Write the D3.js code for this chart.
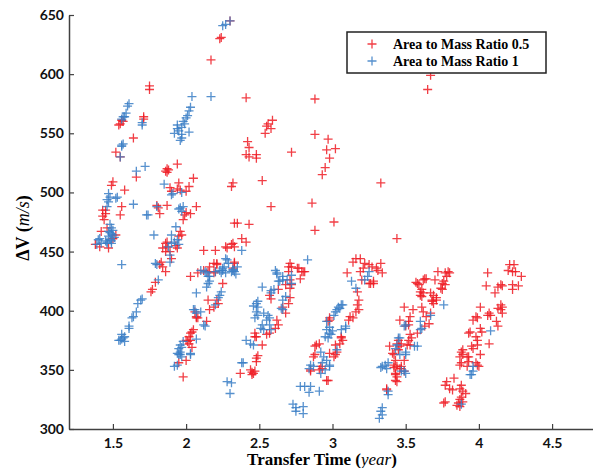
<!DOCTYPE html>
<html><head><meta charset="utf-8">
<script src="https://cdn.jsdelivr.net/npm/d3@7"></script>
<style>body{margin:0;background:#fff}</style>
</head><body>
<svg id="c" width="593" height="468"></svg>
<script>
const seriesNames = ["Area to Mass Ratio 0.5", "Area to Mass Ratio 1"];
const xTicks = [1.5, 2, 2.5, 3, 3.5, 4, 4.5];
const yTicks = [300, 350, 400, 450, 500, 550, 600, 650];

// Area to Mass Ratio 0.5 : [transfer time (year), ΔV (m/s)]
const ratio05 = [
[2.30,645],[2.24,631],[2.23,630],[2.17,612],[1.75,590],[1.75,587],[2.41,580],[2.88,579],[3.67,599],[3.65,587],
[1.55,558],[1.57,560],[1.56,561],[1.54,557],[1.71,564],[1.71,562],[1.64,546],[1.52,534],[1.55,530],[1.66,513],
[1.87,520],[1.86,518],[1.88,519],[1.87,517],[1.94,524],[1.95,508],[1.94,503],[1.96,502],[2.02,505],[2.00,501],
[2.05,512],[2.07,488],[1.99,481],[1.98,477],[1.81,487],[1.82,482],[1.80,489],[1.87,489],[1.50,509],[1.49,506],
[1.45,482],[1.43,480],[1.58,502],[1.56,488],[1.45,485],[1.44,477],[1.55,481],[1.43,485],[1.89,504],[1.90,501],
[2.03,482],[2.00,483],
[1.38,456],[1.41,454],[1.42,467],[1.47,453],[1.52,464],[1.46,470],[1.50,461],
[1.96,467],[1.97,464],[1.87,458],[1.84,453],[1.89,450],[1.95,463],[1.86,457],[1.87,454],[1.93,455],[1.94,453],
[1.86,450],[1.90,444],[1.83,441],[1.82,439],[1.84,437],[1.86,433],[1.79,424],[1.77,418],[1.76,416],
[2.59,561],[2.56,558],[2.55,556],[2.58,554],[2.54,550],[2.88,549],[2.97,545],[2.96,536],[3.02,537],[2.98,529],
[2.95,521],[2.93,515],[2.42,543],[2.43,538],[2.41,532],[2.43,530],[2.48,532],[2.48,529],[2.72,534],[2.32,508],
[2.31,505],[2.52,510],[2.58,488],[2.86,491],[3.01,475],[2.88,468],[2.33,474],[2.35,474],[2.43,473],[2.38,461],
[2.41,458],[3.33,508],[3.44,461],
[2.32,457],[2.33,454],[2.27,454],[2.28,453],[2.31,456],[2.12,451],[2.20,451],[2.19,440],[2.15,433],[2.19,432],
[2.12,434],[2.16,437],[2.21,440],[2.33,441],[2.32,436],[2.08,432],[2.03,429],[2.21,439],[2.20,433],[2.33,440],
[2.25,423],[2.21,409],[2.22,406],[2.19,403],[2.16,401],[2.15,409],[2.08,394],[2.07,395],[2.06,399],[2.07,394],
[2.14,391],[2.02,378],[2.03,375],[2.02,372],[2.04,369],[2.05,384],[2.04,382],[2.03,381],[2.00,375],[2.01,374],
[1.95,356],[2.00,358],[1.98,344],
[2.37,347],[2.44,350],[2.45,348],[2.46,347],[2.45,346],[2.47,349],[2.48,360],[2.49,362],[2.48,357],[2.47,378],
[2.48,378],[2.47,381],[2.55,380],[2.57,381],[2.52,371],[2.62,392],[2.63,388],[2.61,385],[2.68,398],[2.71,411],
[2.70,406],[2.57,413],[2.63,418],[2.72,422],[2.71,419],[2.78,427],[2.70,437],[2.71,440],[2.77,436],[2.79,433],
[2.81,433],[2.72,437],[2.76,436],[2.70,433],[2.68,422],[2.71,426],[2.80,433],[2.58,410],[2.66,403],
[3.16,444],[3.14,441],[3.19,444],[3.22,440],[3.25,439],[3.27,437],[3.21,436],[3.19,433],[3.33,440],[3.31,434],
[3.34,432],[3.30,436],[3.10,432],[3.20,426],[3.26,423],[3.28,425],[3.25,423],[3.28,423],[3.17,416],[3.18,409],
[3.17,405],[3.18,401],[3.16,399],[3.12,395],[3.11,392],[3.14,394],[2.98,394],[2.97,391],[2.98,392],[3.06,378],
[3.07,375],[3.05,372],[3.06,377],[3.02,371],[2.89,371],[2.88,370],[2.91,372],[2.88,363],[2.87,361],[2.98,364],
[3.02,363],[3.03,365],[3.01,361],[2.92,353],[2.91,350],[2.93,351],[2.85,349],[2.85,350],[2.96,341],[2.97,341],
[3.49,403],[3.55,401],[3.53,395],[3.52,391],[3.46,392],[3.53,380],[3.54,377],[3.52,375],[3.51,371],[3.53,371],
[3.45,375],[3.44,372],[3.46,370],[3.45,367],[3.39,370],[3.41,364],[3.43,358],[3.42,354],[3.44,353],[3.47,351],
[3.43,347],[3.44,344],[3.43,341],[3.44,340],[3.37,334],[3.37,333],[3.72,433],[3.77,432],[3.79,433],[3.78,429],
[3.76,425],[3.77,422],[3.63,427],[3.70,426],[3.58,423],[3.60,416],[3.62,415],[3.67,415],[3.61,412],[3.74,419],
[3.71,411],[3.68,408],[3.69,406],[3.61,403],[3.62,399],[3.67,398],[3.64,395],[3.52,388],[3.50,387],[3.66,389],
[3.63,387],[3.47,372],[3.42,352],[3.46,351],[3.49,349],[3.43,346],[3.57,424],[3.59,422],[3.62,426],[3.64,427],
[3.61,418],[3.60,413],[3.69,413],[3.68,409],[3.71,409],[3.80,432],[3.75,423],[3.75,418],[3.58,381],[3.49,358],
[3.47,353],[3.42,363],
[4.21,439],[4.24,439],[4.20,434],[4.23,433],[4.25,433],[4.29,429],[4.06,432],[4.05,421],[4.15,422],[4.16,421],
[4.13,420],[4.23,422],[4.27,421],[4.23,418],[4.11,415],[4.15,405],[4.16,403],[4.13,402],[4.15,401],[4.01,403],
[4.07,398],[4.08,396],[4.06,396],[4.16,398],[4.12,391],[4.13,387],[3.98,395],[3.99,394],[3.96,392],[4.01,385],
[4.02,382],[4.07,372],[3.93,381],[3.98,378],[3.99,375],[3.95,370],[3.96,368],[3.99,371],[4.01,363],[3.88,365],
[3.89,363],[3.87,361],[3.93,361],[3.87,354],[3.88,356],[3.92,353],[3.93,357],[3.98,356],[3.99,354],[4.00,353],
[3.83,343],[3.78,340],[3.77,337],[3.80,334],[3.82,333],[3.88,337],[3.87,334],[3.89,332],[3.91,330],[3.88,327],
[3.87,325],[3.86,322],[3.89,323],[3.77,323],[3.85,320],[3.87,319],[3.76,322],[3.94,382],[3.89,367],[3.92,361]
];

// Area to Mass Ratio 1 : [transfer time (year), ΔV (m/s)]
const ratio1 = [
[2.30,645],[2.27,642],[2.25,641],[2.17,581],[2.04,581],
[2.03,572],[2.02,569],[2.01,565],[2.00,563],[1.99,558],[1.94,557],[1.94,554],[1.97,555],[1.92,550],[1.97,549],
[2.02,551],[1.97,546],[1.96,544],[1.98,560],[1.95,552],
[1.61,575],[1.60,573],[1.59,567],[1.58,564],[1.57,564],[1.56,562],[1.70,559],[1.70,557],[1.57,541],[1.56,540],
[1.56,539],[1.55,530],
[1.66,518],[1.72,522],[1.85,507],[1.90,498],[1.91,499],[1.97,500],[1.53,496],[1.64,490],[1.73,481],[1.96,487],
[1.95,486],[1.98,488],[1.97,484],[1.80,488],[1.74,481],[1.78,464],
[1.47,499],[1.48,496],[1.46,494],[1.46,488],[1.47,492],[1.48,473],[1.49,470],[1.47,467],[1.49,465],[1.50,464],
[1.47,463],[1.48,460],[1.46,458],[1.49,459],[1.51,462],[1.48,466],[1.50,468],[1.40,460],[1.39,456],[1.41,461],
[1.42,457],[1.46,457],[1.45,459],[1.49,457],[1.52,495],
[1.93,471],[1.90,464],[1.94,460],[1.88,454],[1.95,456],[1.90,457],[1.92,458],[1.89,447],[1.79,440],[1.80,439],
[1.89,441],[1.81,426],[1.56,439],
[1.69,409],[1.70,410],[1.67,406],[1.66,399],[1.64,395],[1.63,394],[1.61,387],[1.61,385],[1.56,380],[1.58,378],
[1.55,375],[1.58,374],[1.54,375],[1.57,377],[1.56,376],
[2.10,434],[2.28,443],[2.25,434],[2.26,437],[2.27,432],[2.31,433],[2.32,435],[2.14,432],[2.16,429],[2.15,423],
[2.14,420],[2.24,416],[2.23,413],[2.22,411],[2.20,405],[2.07,415],[2.06,401],[2.07,398],[2.10,399],[2.12,388],
[2.13,387],[2.13,433],[2.15,429],[2.16,425],[2.20,433],[2.23,434],[2.24,432],[2.25,436],[2.27,444],[2.29,440],
[2.33,433],[2.35,437],[2.05,401],[2.07,376],[1.98,374],[1.97,369],[1.96,365],[1.95,363],[2.03,363],[1.92,353],
[1.94,354],[1.96,371],[1.95,368],[1.94,364],[1.96,363],[1.97,361],[2.03,364],[2.34,431],[2.32,434],[2.38,451],
[2.38,356],[2.39,356],[2.28,340],[2.31,339],[2.30,330],[2.41,375],[2.44,372],[2.46,371],[2.48,406],[2.49,403],
[2.48,399],[2.49,396],[2.47,394],[2.61,434],[2.62,432],[2.72,430],[2.66,426],[2.64,425],[2.52,420],[2.60,418],
[2.58,415],[2.68,412],[2.66,409],[2.49,408],[2.46,404],[2.65,402],[2.66,401],[2.53,398],[2.56,396],[2.57,394],
[2.55,392],[2.52,388],[2.51,385],[2.53,384],[2.57,388],[2.58,384],[2.83,443],[2.69,426],[2.72,423],[2.58,417],
[2.62,431],[2.66,429],[2.63,425],
[3.06,405],[3.04,403],[3.02,399],[3.01,396],[3.07,405],[3.05,402],[3.03,401],[2.96,384],[2.98,381],[2.95,378],
[2.97,377],[2.96,391],[2.98,386],[3.09,385],[3.06,384],[2.92,365],[2.94,361],[2.96,358],[2.93,356],[3.03,367],
[2.85,354],[2.84,351],[2.87,353],[2.98,354],[2.95,350],[2.98,353],[2.92,347],[2.78,336],[2.81,336],[2.85,336],
[2.84,331],[2.91,332],[2.73,321],[2.75,318],[2.80,319],[2.75,315],[2.80,313],[3.25,433],[3.24,429],[3.13,425],
[3.16,419],[3.22,426],[3.09,387],[2.99,380],[3.00,383],
[3.50,388],[3.45,377],[3.44,371],[3.43,368],[3.50,365],[3.56,370],[3.36,354],[3.34,353],[3.37,351],[3.33,352],
[3.38,356],[3.49,349],[3.47,349],[3.50,347],[3.38,332],[3.38,329],[3.34,318],[3.33,315],[3.32,309],[3.76,405],
[3.67,396],[3.60,391],[3.61,385],[3.49,387],[3.60,384],[3.46,377],[3.58,370],[3.50,363],[3.46,363],[3.34,312],
[4.08,383],[3.96,353],[3.95,346],[3.94,346],[3.96,349],[3.88,321]
];

const colors = ["#ee1c25", "#3a7ec6"];
const svg = d3.select("#c");
const W = 593, H = 468;
const m = {left: 69, right: -3, top: 15, bottom: 39};
const x = d3.scaleLinear().domain([1.2, 4.8]).range([m.left, W - m.right]);
const y = d3.scaleLinear().domain([300, 650]).range([H - m.bottom, m.top]);

const tickFont = "Lato, 'Liberation Sans', sans-serif";
const serif = "'Liberation Serif', 'DejaVu Serif', serif";

// points
function plus(sel, color) {
  sel.append("path")
    .attr("d", "M-4.5,0H4.5M0,-4.5V4.5")
    .attr("stroke", color)
    .attr("stroke-width", 1.3)
    .attr("stroke-opacity", 0.85)
    .attr("fill", "none");
}
const series = [ratio05, ratio1];
series.forEach((data, i) => {
  const g = svg.append("g");
  g.selectAll("g").data(data).join("g")
    .attr("transform", d => `translate(${x(d[0])},${y(d[1])})`)
    .call(s => plus(s, colors[i]));
});

// axes
const xAxis = d3.axisBottom(x).tickValues(xTicks).tickSizeInner(-5).tickSizeOuter(0).tickPadding(9)
  .tickFormat(d3.format("~g"));
const gx = svg.append("g").attr("transform", `translate(0,${H - m.bottom})`).call(xAxis);
const yAxis = d3.axisLeft(y).tickValues(yTicks).tickSizeInner(-5).tickSizeOuter(0).tickPadding(5);
const gy = svg.append("g").attr("transform", `translate(${m.left},0)`).call(yAxis);
[gx, gy].forEach(g => {
  g.select(".domain").attr("stroke", "#404040").attr("stroke-width", 1.5);
  g.selectAll(".tick line").attr("stroke", "#404040").attr("stroke-width", 1.2);
  g.selectAll(".tick text").attr("fill", "#111").attr("font-family", tickFont)
    .attr("font-weight", "bold").attr("font-size", 14);
});

// axis labels
const xl = svg.append("text").attr("x", 322).attr("y", 465).attr("text-anchor", "middle")
  .attr("font-family", serif).attr("font-weight", "bold").attr("font-size", 17).attr("fill", "#000");
xl.append("tspan").text("Transfer Time (");
xl.append("tspan").attr("font-style", "italic").attr("font-weight", "normal").text("year");
xl.append("tspan").text(")");

const yl = svg.append("text").attr("transform", "translate(29,228) rotate(-90)").attr("text-anchor", "middle")
  .attr("font-family", serif).attr("font-weight", "bold").attr("font-size", 18).attr("fill", "#000");
yl.append("tspan").text("ΔV (");
yl.append("tspan").attr("font-style", "italic").attr("font-weight", "normal").text("m/s");
yl.append("tspan").text(")");

// legend
const lg = svg.append("g");
lg.append("rect").attr("x", 347).attr("y", 32).attr("width", 199).attr("height", 41)
  .attr("fill", "#fff").attr("stroke", "#222").attr("stroke-width", 1.5);
seriesNames.forEach((n, i) => {
  const yy = 44 + i * 17;
  const g = lg.append("g").attr("transform", `translate(372,${yy})`);
  plus(g, colors[i]);
  lg.append("text").attr("x", 393).attr("y", yy + 5).text(n)
    .attr("font-family", serif).attr("font-weight", "bold").attr("font-size", 14).attr("fill", "#000");
});
</script>
</body></html>
